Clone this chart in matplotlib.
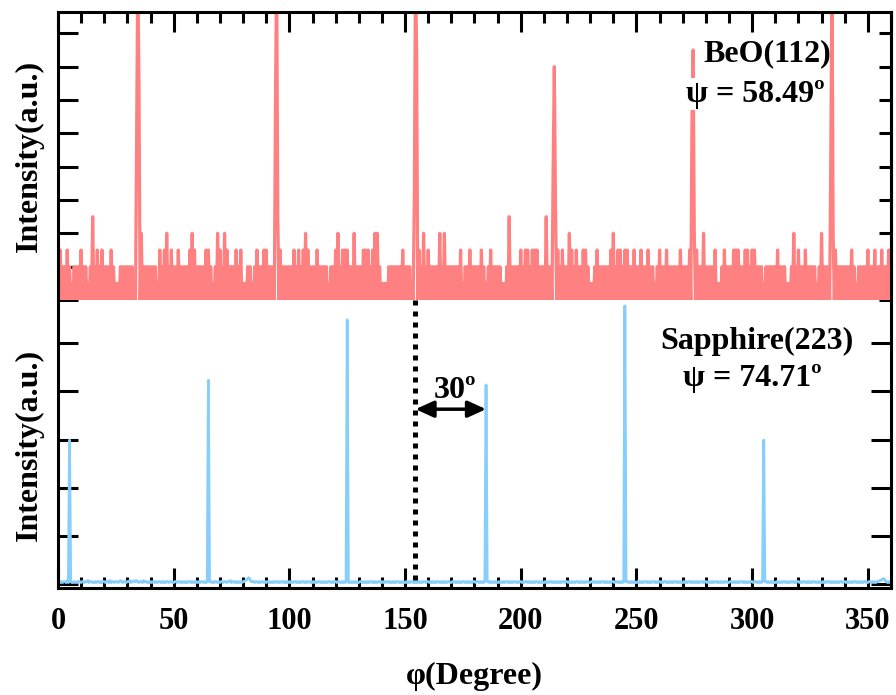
import numpy as np
import matplotlib.pyplot as plt

plt.rcParams['font.family'] = ['Liberation Serif', 'DejaVu Serif']
plt.rcParams['font.weight'] = 'bold'

# phi scan, 0.5 degree steps from 0 to 360
phi = np.arange(0, 360.5, 0.5)

# BeO(112): counts, one digit per step, 10 degrees per chunk
beo_counts = (
    "20302020302010202020" "30202010205020302030" "20202030201010202020"
    "20202010202040202020" "20202010302030402030" "20203020202020304030"
    "20202020303020102040" "30204030202020302030" "10102020102030202030"
    "30202020202030202020" "20203020302030403020" "20203020202020102020"
    "30402030303020204020" "20203030302030404020" "10101020202020202030"
    "20202010202030204020" "30202020204020402020" "20202020301020203020"
    "20202030201020302020" "20201010205020202020" "30203030203030302020"
    "20502020202030203020" "20403020302020303020" "10102030202020202030"
    "40203030203030202030" "20203020203020201020" "30202030202020202030"
    "20202030202030202040" "20202020301010203020" "20203030302020303020"
    "30302020201020202020" "20302020201010204020" "30202030202020201020"
    "40202020202030202020" "20202030201020202020" "30202030202030202030"
    "2"
)
# BeO(112) reflections: centre and counts at centre-0.5, centre, centre+0.5
beo_peak_centers = [34.5, 94.5, 154.5, 214.5, 274.5, 334.5]
beo_peak_profiles = [[10, 20, 13], [12, 20, 5], [6, 20, 15],
                     [8, 14, 6], [11, 15, 4], [9, 20, 4]]

# Sapphire(223): baseline in units of 0.02, one digit per step
sap_base = (
    "32232332423322323233" "23323342332232332323" "32332423323323432332"
    "33423343432332433232" "32332323323232332332" "23323323232323323232"
    "32323323232332323323" "23323323342332323232" "33456753332332323323"
    "23323232332323323232" "32323323232332323323" "23232332323232332323"
    "32332323233232323232" "23323232323323232332" "32323323232323323232"
    "23232332323232323323" "32323232332323232332" "23323232323323232323"
    "32332323232332323232" "23232323323232332323" "32323323232323323232"
    "23232332323232323323" "32323232332323232332" "23323232323323232323"
    "32332323232332323232" "23232323323232332323" "32323323232323323232"
    "23232332323232323323" "32323232332323232332" "23323232323323232323"
    "32332323232332323232" "23232323323232332323" "32323323232323323232"
    "23232332323232323323" "32323232332323232332" "23323232334456643232"
    "3"
)
sap_peak_centers = [5, 65, 125, 185, 245, 305]
sap_peak_heights = [2.99, 4.23, 5.48, 4.13, 5.77, 2.99]

beo = np.array([int(c) for c in beo_counts], dtype=float)
for c, prof in zip(beo_peak_centers, beo_peak_profiles):
    i = int(round(c / 0.5))
    beo[i - 1:i + 2] = prof

sap = np.array([int(c) for c in sap_base], dtype=float) * 0.02
for c, h in zip(sap_peak_centers, sap_peak_heights):
    sap[int(round(c / 0.5))] = h

pink = '#ff8080'
blue = '#87cefa'

fig = plt.figure(figsize=(8.96, 6.95), dpi=100)
ax1 = fig.add_axes([0.0647, 0.5683, 0.9297, 0.4144])
ax2 = fig.add_axes([0.0647, 0.1540, 0.9297, 0.4115])

ax1.plot(phi, beo, color=pink, lw=2.3)
ax2.plot(phi, sap, color=blue, lw=2.0)

for ax in (ax1, ax2):
    ax.set_xlim(0, 360)
    ax.set_xticks(np.arange(0, 360, 50))
    ax.set_xticks(np.arange(0, 361, 10), minor=True)
    for s in ax.spines.values():
        s.set_linewidth(2.2)
    ax.tick_params(which='major', direction='in', length=14.4, width=2.2)
    ax.tick_params(which='minor', direction='in', length=8, width=2.2)
    ax.set_ylabel('Intensity(a.u.)', fontsize=23, fontweight='bold', labelpad=10)

ax1.set_ylim(0, 17.28)
ax1.set_yticks(np.arange(0, 17, 2))
ax1.spines['bottom'].set_visible(False)
ax1.tick_params(axis='x', which='both', top=True, bottom=False,
                labelbottom=False, labeltop=False)
ax1.tick_params(axis='y', which='both', left=True, right=False,
                labelleft=False, labelright=False)
# shorter ticks on the right-hand side of the upper panel
right1 = ax1.secondary_yaxis('right')
right1.set_yticks(np.arange(0, 17, 2))
right1.spines['right'].set_linewidth(2.2)
right1.tick_params(direction='in', length=8.6, width=2.2, labelright=False)

ax2.set_ylim(-0.072, 5.85)
ax2.set_yticks(np.arange(0, 6, 1))
ax2.spines['top'].set_visible(False)
ax2.tick_params(axis='x', which='both', top=False, bottom=True, pad=14,
                labelsize=22)
ax2.tick_params(axis='y', which='both', left=True, right=True,
                labelleft=False, labelright=False)
for lab in ax2.get_xticklabels():
    lab.set_fontweight('bold')
ax2.set_xlabel('φ(Degree)', fontsize=23, fontweight='bold', labelpad=18)

# labels
ax1.text(306.5, 14.3, 'BeO(112)', fontsize=23, fontweight='bold',
         ha='center', va='baseline')
ax1.text(301.5, 11.9, 'ψ = 58.49º', fontsize=23, fontweight='bold',
         ha='center', va='baseline',
         bbox=dict(facecolor='white', edgecolor='none', pad=1))
ax2.text(302, 4.88, 'Sapphire(223)', fontsize=23, fontweight='bold',
         ha='center', va='baseline')
ax2.text(300, 4.11, 'ψ = 74.71º', fontsize=23, fontweight='bold',
         ha='center', va='baseline')

# 30 degree offset between the two sets of reflections
x0 = beo_peak_centers[2]
x1 = sap_peak_centers[3]
ax2.axvline(x0, ymin=0.028, ymax=1.017, color='black', lw=3.6,
            ls=(0, (1, 1.2)), clip_on=False)
ax2.annotate('', xy=(x1, 3.63), xytext=(x0, 3.63),
             arrowprops=dict(arrowstyle='<|-|>,head_length=0.55,head_width=0.25',
                             mutation_scale=20, lw=2.5, color='black',
                             shrinkA=0, shrinkB=0))
ax2.text((x0 + x1) / 2 + 2, 3.86, '30º', fontsize=23, fontweight='bold',
         ha='center', va='baseline')

fig.savefig('out.png', dpi=100)
